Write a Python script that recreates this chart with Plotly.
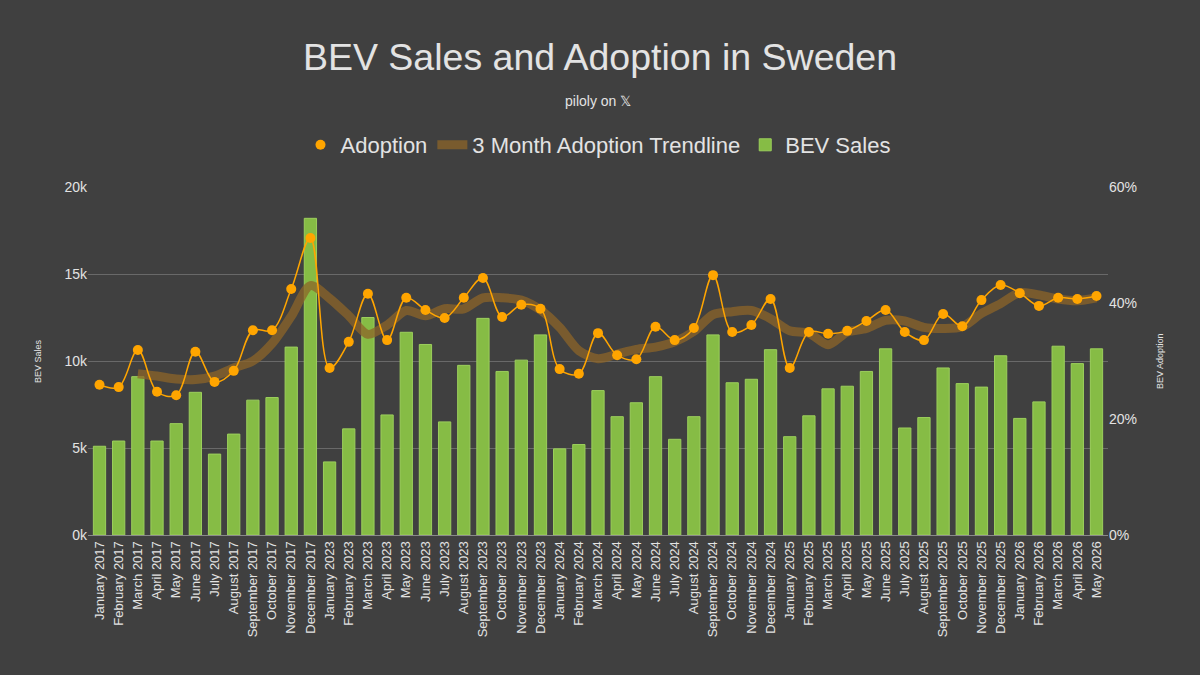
import plotly.graph_objects as go
from plotly.subplots import make_subplots

months = ["January", "February", "March", "April", "May", "June", "July",
          "August", "September", "October", "November", "December"]
categories = ([f"{m} 2017" for m in months] + [f"{m} 2023" for m in months] +
              [f"{m} 2024" for m in months] + [f"{m} 2025" for m in months] +
              [f"{m} 2026" for m in months[:5]])

bev_sales = [5100, 5400, 9100, 5400, 6400, 8200, 4650, 5800, 7750, 7900, 10800, 18200,
             4200, 6100, 12500, 6900, 11650, 10950, 6500, 9750, 12450, 9400, 10050, 11500,
             4950, 5200, 8300, 6800, 7600, 9100, 5500, 6800, 11500, 8750, 8950, 10650,
             5650, 6850, 8400, 8550, 9400, 10700, 6150, 6750, 9600, 8700, 8500, 10300,
             6700, 7650, 10850, 9850, 10700]

adoption = [25.9, 25.5, 31.9, 24.7, 24.1, 31.6, 26.4, 28.3, 35.3, 35.3, 42.4, 51.2,
            28.8, 33.3, 41.6, 33.6, 40.9, 38.8, 37.4, 40.9, 44.3, 37.6, 39.7, 39.0,
            28.6, 27.8, 34.8, 31.0, 30.3, 35.9, 33.6, 35.7, 44.8, 35.0, 36.2, 40.7,
            28.8, 35.0, 34.7, 35.2, 36.9, 38.8, 35.0, 33.6, 38.1, 36.0, 40.5, 43.1,
            41.7, 39.5, 40.9, 40.7, 41.2]

trend = [None, None, 27.8, 27.4, 26.9, 26.8, 27.4, 28.8, 30.0, 33.0, 37.7, 43.0,
         40.8, 37.8, 34.6, 36.2, 38.7, 37.8, 39.0, 39.0, 40.9, 40.9, 40.5, 38.8,
         35.8, 31.8, 30.4, 31.2, 32.0, 32.4, 33.3, 35.1, 38.0, 38.5, 38.7, 37.3,
         35.2, 34.8, 32.8, 35.0, 35.6, 37.0, 36.9, 35.8, 35.6, 35.9, 38.2, 39.9,
         41.8, 41.4, 40.7, 40.4, 40.9]

adoption_frac = [v / 100 for v in adoption]
trend_frac = [None if v is None else v / 100 for v in trend]

BG = "#404040"
TXT = "#e3e3e3"
FONT = "Liberation Sans, Arial, sans-serif"
ORANGE = "#FFA500"
TREND = "rgba(140,100,40,0.75)"

PLOT_LEFT, PLOT_RIGHT = 88, 1108
PLOT_TOP, PLOT_BOTTOM = 187, 535
PLOT_W = PLOT_RIGHT - PLOT_LEFT
PLOT_H = PLOT_BOTTOM - PLOT_TOP


def paper_y(px):
    return (PLOT_BOTTOM - px) / PLOT_H


fig = make_subplots(specs=[[{"secondary_y": True}]])

fig.add_trace(go.Bar(
    x=categories, y=bev_sales, name="BEV Sales",
    marker=dict(color="#86bc45", line=dict(color="#9ccf5c", width=1)),
    legendrank=3), secondary_y=False)

fig.add_trace(go.Scatter(
    x=categories, y=trend_frac, name="3 Month Adoption Trendline", mode="lines",
    line=dict(color=TREND, width=9, shape="spline", smoothing=0.8),
    legendrank=2), secondary_y=True)

fig.add_trace(go.Scatter(
    x=categories, y=adoption_frac, name="Adoption", mode="lines+markers",
    line=dict(color=ORANGE, width=1.5, shape="spline", smoothing=1.0),
    marker=dict(color=ORANGE, size=10),
    showlegend=False, legendgroup="adopt"), secondary_y=True)

# legend entry for Adoption shown as a dot only (no data)
fig.add_trace(go.Scatter(
    x=[None], y=[None], name="Adoption", mode="markers",
    marker=dict(color=ORANGE, size=10), legendgroup="adopt",
    legendrank=1, hoverinfo="skip"), secondary_y=True)

fig.update_layout(
    width=1200, height=675,
    paper_bgcolor=BG, plot_bgcolor=BG,
    font=dict(family=FONT, color=TXT),
    margin=dict(l=PLOT_LEFT, r=1200 - PLOT_RIGHT, t=PLOT_TOP, b=675 - PLOT_BOTTOM,
                autoexpand=False),
    bargap=0.36,
    showlegend=True,
    title=dict(text="BEV Sales and Adoption in Sweden",
               x=0.5, xanchor="center", y=0.935, yanchor="top",
               font=dict(size=37.5, color=TXT, family=FONT)),
    legend=dict(orientation="h", x=0.5, xanchor="center", y=paper_y(145), yanchor="middle",
                font=dict(size=22, color=TXT), bgcolor="rgba(0,0,0,0)",
                itemwidth=30),
)

fig.add_annotation(text="piloly on 𝕏", xref="paper", yref="paper", x=0.5,
                   y=paper_y(101), xanchor="center", yanchor="middle",
                   showarrow=False, font=dict(size=14, color=TXT, family=FONT))
fig.add_annotation(text="BEV Sales", xref="paper", yref="paper",
                   x=-(PLOT_LEFT - 38) / PLOT_W, y=0.5, xanchor="center", yanchor="middle",
                   textangle=-90, showarrow=False, font=dict(size=9, color=TXT, family=FONT))
fig.add_annotation(text="BEV Adoption", xref="paper", yref="paper",
                   x=1 + (1160 - PLOT_RIGHT) / PLOT_W, y=0.5, xanchor="center", yanchor="middle",
                   textangle=-90, showarrow=False, font=dict(size=9, color=TXT, family=FONT))

fig.update_xaxes(domain=[0, 1], range=[-0.6, len(categories) - 0.4],
                 tickangle=-90, tickfont=dict(size=13, color=TXT), showgrid=False,
                 showline=True, linecolor="#8a8a8a", linewidth=1, ticks="",
                 automargin=False)

fig.update_yaxes(range=[0, 20000], tickvals=[0, 5000, 10000, 15000, 20000],
                 ticktext=["0k", "5k", "10k", "15k", "20k"],
                 gridcolor="#696969", gridwidth=1, zeroline=False,
                 tickfont=dict(size=14, color=TXT), automargin=False,
                 secondary_y=False)
fig.update_yaxes(range=[0, 0.6], tickvals=[0, 0.2, 0.4, 0.6], tickformat=".0%",
                 showgrid=False, zeroline=False, automargin=False,
                 tickfont=dict(size=14, color=TXT),
                 secondary_y=True)

fig.write_html("out.html")
